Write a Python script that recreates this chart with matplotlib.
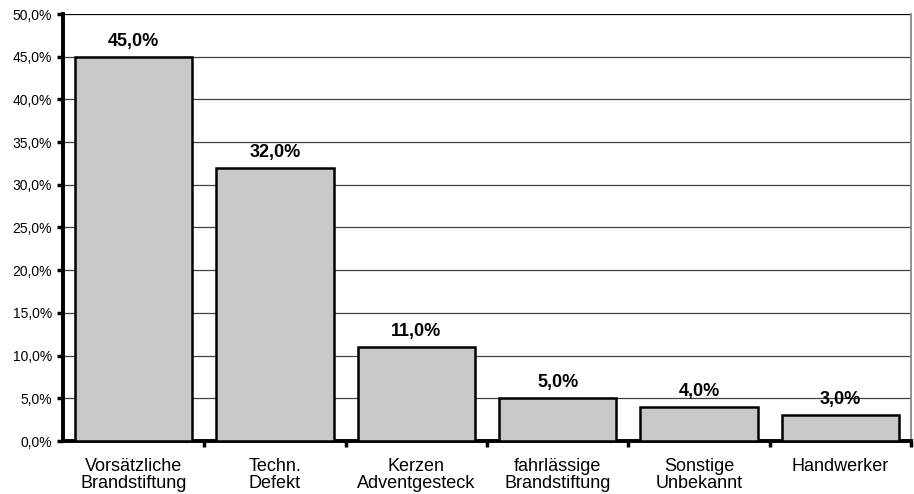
import matplotlib
matplotlib.use("Agg")
import matplotlib.pyplot as plt
import numpy as np

# Brandursachen in Prozent
ursachen = ["Vorsätzliche\nBrandstiftung", "Techn.\nDefekt", "Kerzen\nAdventgesteck",
            "fahrlässige\nBrandstiftung", "Sonstige\nUnbekannt", "Handwerker"]
anteile = [45.0, 32.0, 11.0, 5.0, 4.0, 3.0]
y_ticks = [0, 5, 10, 15, 20, 25, 30, 35, 40, 45, 50]

plt.rcParams['font.family'] = ['Liberation Sans', 'DejaVu Sans']


def fmt(v):
    return ("%.1f%%" % v).replace(".", ",")


fig = plt.figure(figsize=(9.14, 4.94), dpi=100)
ax = fig.add_axes([63 / 914, 53 / 494, 848 / 914, 427 / 494])

x = np.arange(len(anteile))
ax.bar(x, anteile, width=0.83, color='#c8c8c8', edgecolor='black', linewidth=1.8, zorder=3)

for xi, v in zip(x, anteile):
    ax.annotate(fmt(v), (xi, v), xytext=(0, 5), textcoords='offset points',
                ha='center', va='bottom', fontsize=13, fontweight='bold', zorder=4)

ax.set_xlim(-0.5, len(anteile) - 0.5)
ax.set_ylim(0, 50)
ax.set_yticks(y_ticks)
ax.set_yticklabels([fmt(t) for t in y_ticks], fontsize=10)
ax.yaxis.grid(True, color='#404040', linewidth=0.9, zorder=0)
ax.axhline(50, color='black', linewidth=1.5, zorder=2)

# Kategorie-Beschriftungen ohne Ticks, Ticks an den Grenzen
ax.set_xticks(x)
ax.set_xticklabels(ursachen, fontsize=13, linespacing=1.0)
ax.tick_params(axis='x', length=0, pad=12)
ax.set_xticks(np.arange(len(anteile)) + 0.5, minor=True)
ax.tick_params(axis='x', which='minor', length=4, width=2.5, direction='out', color='black')
ax.tick_params(axis='y', length=4, width=2.5, direction='out', color='black', pad=4)

for s in ['left', 'bottom']:
    ax.spines[s].set_linewidth(2.8)
ax.spines['top'].set_visible(False)
ax.spines['right'].set_color('#808080')
ax.spines['right'].set_linewidth(1.2)

fig.savefig('out.png', dpi=100)
